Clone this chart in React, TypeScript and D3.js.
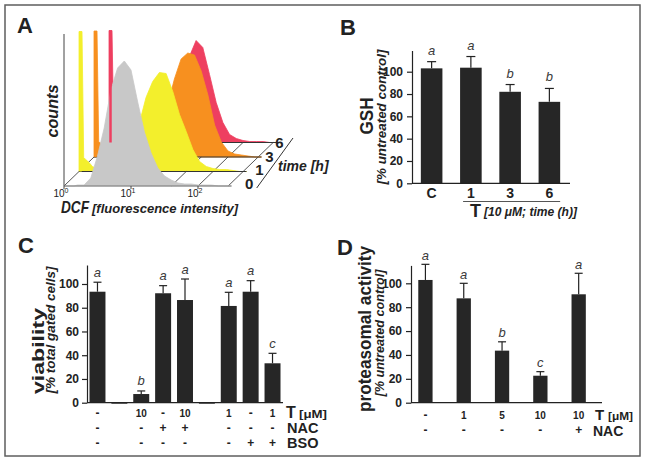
import React, { useEffect, useRef } from "react";
import * as d3 from "d3";

// ---- A: DCF histograms (x = log10 fluorescence, y = counts), one series per time point
const dcfLog = [0, 0.045, 0.07, 0.1, 0.15, 0.2, 0.3, 0.4, 0.5, 0.6, 0.7, 0.8, 0.9, 1.0, 1.1, 1.2, 1.3, 1.4, 1.5, 1.6, 1.7, 1.8, 1.9, 2.0, 2.1, 2.2, 2.3, 2.4, 2.5];
const counts0h = [0, 0, 0, 0, 0, 1, 1, 8, 30, 58, 96, 118, 125, 116, 84, 54, 33, 18, 10, 6, 3, 2, 2, 1, 1, 1, 0, 0, 0];
const counts1h = [140, 140, 14, 12, 9, 5, 2, 2, 2, 4, 8, 22, 48, 74, 90, 99, 98, 80, 57, 40, 22, 10, 5, 3, 2, 2, 1, 0, 0];
const counts3h = [126, 126, 15, 14, 10, 6, 3, 2, 2, 3, 5, 10, 20, 32, 52, 78, 98, 104, 102, 86, 62, 32, 15, 6, 3, 2, 1, 0, 0];
const counts6h = [112, 112, 14, 12, 8, 5, 3, 2, 2, 3, 5, 10, 18, 32, 58, 86, 102, 95, 68, 40, 20, 8, 4, 2, 1, 1, 1, 0, 0];
const timeLabels = ["0", "1", "3", "6"];
const histColors = ["#c8c8c8", "#f3ef2c", "#f7901f", "#ee3f60"];
const decades = [0, 1, 2];
const floorLines = [1.0, 1.6, 2.0, 2.45];

// ---- B: GSH
const gshCats = ["C", "1", "3", "6"];
const gshMean = [103, 103.6, 82, 73];
const gshSd = [6, 10, 6.5, 12];
const gshSig = ["a", "a", "b", "b"];

// ---- C: viability
const viaMean = [93.5, 0, 7.3, 92.2, 86.5, 0, 81.5, 93.5, 33.2];
const viaSd = [8, 0, 2.6, 6.4, 17.7, 0, 11.5, 9.3, 8.4];
const viaSig = ["a", "", "b", "a", "a", "", "a", "a", "c"];
const viaT = ["-", "", "10", "-", "10", "", "1", "-", "1"];
const viaNAC = ["-", "", "-", "+", "+", "", "-", "-", "-"];
const viaBSO = ["-", "", "-", "-", "-", "", "-", "+", "+"];

// ---- D: proteasomal activity
const proMean = [102.8, 87.4, 43.6, 22.6, 90.8];
const proSd = [13.1, 12.6, 7.4, 3.4, 17.6];
const proSig = ["a", "a", "b", "c", "a"];
const proT = ["-", "1", "5", "10", "10"];
const proNAC = ["-", "-", "-", "-", "+"];

const FONT = "'Liberation Sans', Arial, Helvetica, sans-serif";
const INK = "#222";

function barPanel(svg: any, cfg: any) {
  const cats = cfg.mean.map((_: number, i: number) => String(i));
  const x = d3.scaleBand().domain(cats).range(cfg.xRange).paddingInner(cfg.pIn).paddingOuter(cfg.pOut);
  const y = d3.scaleLinear().domain([0, cfg.yMax]).range(cfg.yRange);
  const g = svg.append("g");

  g.selectAll("rect").data(cfg.mean).join("rect")
    .attr("x", (_: number, i: number) => x(String(i)))
    .attr("y", (d: number) => y(d))
    .attr("width", x.bandwidth())
    .attr("height", (d: number) => Math.max(1, y(0) - y(d)))
    .attr("fill", "#262626");

  const cx = (i: number) => (x(String(i)) as number) + x.bandwidth() / 2;
  cfg.mean.forEach((m: number, i: number) => {
    const sd = cfg.sd[i];
    if (sd > 0) {
      g.append("line").attr("x1", cx(i)).attr("x2", cx(i)).attr("y1", y(m)).attr("y2", y(m + sd))
        .attr("stroke", INK).attr("stroke-width", 1.2);
      g.append("line").attr("x1", cx(i) - cfg.capW / 2).attr("x2", cx(i) + cfg.capW / 2)
        .attr("y1", y(m + sd)).attr("y2", y(m + sd)).attr("stroke", INK).attr("stroke-width", 1.2);
    }
    if (cfg.sig[i]) {
      g.append("text").attr("x", cx(i)).attr("y", y(m + sd) - cfg.sigGap)
        .attr("text-anchor", "middle").attr("font-family", FONT).attr("font-style", "italic")
        .attr("font-size", 13).attr("fill", "#3a3a3a").text(cfg.sig[i]);
    }
  });

  const ax = g.append("g").attr("transform", `translate(${cfg.xRange[0]},0)`)
    .call(d3.axisLeft(y).tickValues([0, 20, 40, 60, 80, 100]).tickSize(5).tickPadding(cfg.tickPad).tickSizeOuter(0));
  ax.select(".domain").attr("stroke", INK).attr("stroke-width", 1.2);
  ax.selectAll(".tick line").attr("stroke", INK).attr("stroke-width", 1.2);
  ax.selectAll(".tick text").attr("font-family", FONT).attr("font-weight", "bold").attr("font-size", 12).attr("fill", INK);

  g.append("line").attr("x1", cfg.xRange[0]).attr("x2", cfg.axisEnd).attr("y1", y(0)).attr("y2", y(0))
    .attr("stroke", INK).attr("stroke-width", 1.2);

  return { x, cx, y };
}

function txt(g: any, x: number, y: number, s: string, size: number, opts: any = {}) {
  const t = g.append("text").attr("x", x).attr("y", y).attr("font-family", FONT)
    .attr("font-size", size).attr("fill", opts.fill || INK)
    .attr("font-weight", opts.weight || "bold")
    .attr("font-style", opts.italic ? "italic" : "normal")
    .attr("text-anchor", opts.anchor || "start")
    .text(s);
  if (opts.len) t.attr("textLength", opts.len).attr("lengthAdjust", "spacingAndGlyphs");
  return t;
}

function vtxt(g: any, x: number, y: number, s: string, size: number, opts: any = {}) {
  const t = txt(g, 0, 0, s, size, { ...opts, anchor: "middle" });
  t.attr("transform", `translate(${x},${y}) rotate(-90)`);
  return t;
}

export default function App() {
  const svgRef = useRef<SVGSVGElement>(null);

  useEffect(() => {
    const svg = d3.select(svgRef.current);
    svg.selectAll("*").remove();

    svg.append("rect").attr("x", 5).attr("y", 5).attr("width", 635).attr("height", 451)
      .attr("fill", "#fff").attr("stroke", "#5e5e5e").attr("stroke-width", 1.5);

    // panel letters
    txt(svg, 17, 33, "A", 22);
    txt(svg, 340, 35, "B", 22);
    txt(svg, 18, 253, "C", 22);
    txt(svg, 337, 255, "D", 22);

    // ---------------- A ----------------
    const gA = svg.append("g");
    const xLog = d3.scaleLinear().domain([0, 2.5]).range([64, 231.5]);
    const dX = d3.scaleLinear().domain([0, 3]).range([0, 45]);
    const dY = d3.scaleLinear().domain([0, 3]).range([186, 142.5]);
    const hCount = d3.scaleLinear().domain([0, 150]).range([0, 150]);
    const series = [counts0h, counts1h, counts3h, counts6h];

    // back to front: 6h, 3h, 1h, 0h
    for (let k = 3; k >= 0; k--) {
      const area = d3.area<number>()
        .x((_, i) => xLog(dcfLog[i]) + dX(k))
        .y0(dY(k))
        .y1((c) => dY(k) - hCount(c));
      gA.append("path").attr("d", area(series[k])).attr("fill", histColors[k])
        .attr("stroke", histColors[k]).attr("stroke-width", 0.8).attr("stroke-linejoin", "round");
      gA.append("line").attr("x1", xLog(0) + dX(k)).attr("x2", xLog(2.5) + dX(k))
        .attr("y1", dY(k)).attr("y2", dY(k)).attr("stroke", k === 0 ? "#777" : "#333").attr("stroke-width", 1.1);
      if (k > 0) {
        [0, ...floorLines].forEach((l) => {
          gA.append("line")
            .attr("x1", xLog(l) + dX(k)).attr("y1", dY(k))
            .attr("x2", xLog(l) + dX(k - 1)).attr("y2", dY(k - 1))
            .attr("stroke", "#444").attr("stroke-width", 0.9);
        });
      }
    }
    // first-bin spikes (off-scale low-fluorescence events)
    [1, 2, 3].forEach((k) => {
      const sx = (xLog(dcfLog[0]) + xLog(dcfLog[1])) / 2 + dX(k);
      gA.append("line").attr("x1", sx).attr("x2", sx)
        .attr("y1", dY(k)).attr("y2", dY(k) - hCount(series[k][0]))
        .attr("stroke", histColors[k]).attr("stroke-width", 2.5);
    });
    // counts axis
    gA.append("line").attr("x1", xLog(0)).attr("x2", xLog(0)).attr("y1", dY(0)).attr("y2", dY(0) - hCount(152))
      .attr("stroke", "#444").attr("stroke-width", 1);
    // decade ticks
    decades.forEach((d) => {
      gA.append("line").attr("x1", xLog(d)).attr("x2", xLog(d)).attr("y1", dY(0)).attr("y2", dY(0) + 3)
        .attr("stroke", "#444").attr("stroke-width", 1);
      const t = txt(gA, xLog(d) - 3, 197, "10", 10, { weight: "normal", anchor: "middle" });
      t.append("tspan").attr("dy", -4).attr("font-size", 7).text(String(d));
    });
    // time axis
    const tx = d3.scaleLinear().domain([-0.3, 3.3]).range([256.7, 293]);
    const ty = d3.scaleLinear().domain([-0.3, 3.3]).range([188, 138]);
    gA.append("line").attr("x1", tx(-0.3)).attr("y1", ty(-0.3)).attr("x2", tx(3.3)).attr("y2", ty(3.3))
      .attr("stroke", "#333").attr("stroke-width", 1);
    timeLabels.forEach((s, k) => txt(gA, tx(k) - 10.5, ty(k) + 5.5, s, 15, { anchor: "middle" }));
    txt(gA, 278, 171, "time [h]", 14, { italic: true });
    vtxt(gA, 58, 111, "counts", 17, { italic: true, len: 53 });
    txt(gA, 61, 213, "DCF", 17, { italic: true, len: 28 });
    txt(gA, 92, 213, "[fluorescence intensity]", 12.5, { italic: true, len: 146 });

    // ---------------- B ----------------
    const gB = svg.append("g");
    const b = barPanel(gB, {
      mean: gshMean, sd: gshSd, sig: gshSig, xRange: [412, 569], pIn: 0.45, pOut: 0.225,
      yMax: 119, yRange: [183.3, 50.5], capW: 9, sigGap: 7, axisEnd: 570, tickPad: 4,
    });
    gshCats.forEach((c, i) => txt(gB, b.cx(i), 198, c, 14, { anchor: "middle" }));
    gB.append("line").attr("x1", (b.x("1") as number) + 3).attr("x2", (b.x("3") as number) + b.x.bandwidth())
      .attr("y1", 201.5).attr("y2", 201.5).attr("stroke", "#555").attr("stroke-width", 1);
    txt(gB, 470, 217, "T", 18);
    txt(gB, 484, 216, "[10 μM; time (h)]", 12, { italic: true, len: 93 });
    vtxt(gB, 373, 116, "GSH", 19, { len: 37 });
    vtxt(gB, 386, 117, "[% untreated control]", 12.5, { italic: true, len: 135 });

    // ---------------- C ----------------
    const gC = svg.append("g");
    const c = barPanel(gC, {
      mean: viaMean, sd: viaSd, sig: viaSig, xRange: [87, 283], pIn: 0.27, pOut: 0.114,
      yMax: 116, yRange: [402.7, 265], capW: 8, sigGap: 5.5, axisEnd: 283, tickPad: 3,
    });
    const cRows = [
      { vals: viaT, y: 417 },
      { vals: viaNAC, y: 432 },
      { vals: viaBSO, y: 447 },
    ];
    cRows.forEach((r) => r.vals.forEach((v, i) => {
      if (v) txt(gC, c.cx(i), r.y, v, /\d/.test(v) ? 10 : 12, { anchor: "middle" });
    }));
    txt(gC, 286, 418, "T", 16);
    txt(gC, 299, 418, "[μM]", 11, { len: 28 });
    txt(gC, 287, 433, "NAC", 14.5);
    txt(gC, 287, 448, "BSO", 14.5);
    vtxt(gC, 44, 351, "viability", 16.5, { len: 86 });
    vtxt(gC, 55, 330, "[% total gated cells]", 12.5, { italic: true, len: 127 });

    // ---------------- D ----------------
    const gD = svg.append("g");
    const dd = barPanel(gD, {
      mean: proMean, sd: proSd, sig: proSig, xRange: [411, 593.1], pIn: 0.627, pOut: 0.19,
      yMax: 115, yRange: [402.7, 265.4], capW: 8, sigGap: 4.5, axisEnd: 602, tickPad: 4,
    });
    const dRows = [
      { vals: proT, y: 419 },
      { vals: proNAC, y: 434 },
    ];
    dRows.forEach((r) => r.vals.forEach((v, i) => {
      txt(gD, dd.cx(i), r.y, v, /\d/.test(v) ? 10 : 12, { anchor: "middle" });
    }));
    txt(gD, 595, 419.5, "T", 15);
    txt(gD, 608, 419.5, "[μM]", 11, { len: 25 });
    txt(gD, 593, 435.5, "NAC", 14);
    vtxt(gD, 371, 329, "proteasomal activity", 18, { len: 166 });
    vtxt(gD, 384, 333, "[% untreated control]", 12.5, { italic: true, len: 127 });
  }, []);

  return (
    <svg ref={svgRef} width={645} height={461}
      style={{ position: "absolute", left: 0, top: 0, background: "#fff" }} />
  );
}
